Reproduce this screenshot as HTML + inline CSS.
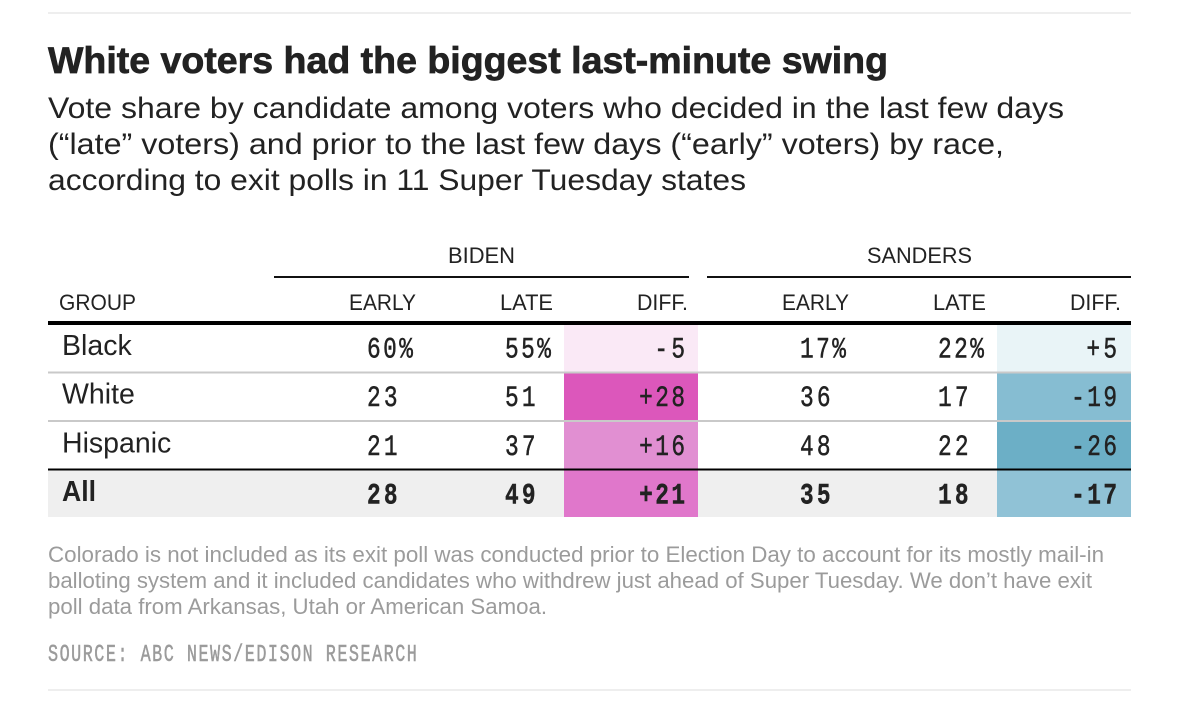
<!DOCTYPE html>
<html>
<head>
<meta charset="utf-8">
<title>White voters had the biggest last-minute swing</title>
<style>
html,body{margin:0;padding:0;background:#fff;width:1200px;height:710px;overflow:hidden}
svg{display:block}
text{font-family:"Liberation Sans",sans-serif;fill:#222}
.sub{font-size:30px}
.head{font-size:22px}
.note{font-size:22px;fill:#9b9b9b}
.source{font-family:"Liberation Mono",monospace;font-size:24px;fill:#9b9b9b;stroke:#9b9b9b;stroke-width:.5px}
</style>
</head>
<body>
<svg id="chart" width="1200" height="710" viewBox="0 0 1200 710">
  <rect x="48" y="12" width="1083" height="2" fill="#eeeeee"/>
  <text x="48" y="73" font-size="37" font-weight="700" stroke="#222" stroke-width=".7" textLength="840" lengthAdjust="spacingAndGlyphs">White voters had the biggest last-minute swing</text>
  <text class="sub" x="48" y="118" textLength="1016" lengthAdjust="spacingAndGlyphs">Vote share by candidate among voters who decided in the last few days</text>
  <text class="sub" x="48" y="154" textLength="956" lengthAdjust="spacingAndGlyphs">(“late” voters) and prior to the last few days (“early” voters) by race,</text>
  <text class="sub" x="48" y="190" textLength="698" lengthAdjust="spacingAndGlyphs">according to exit polls in 11 Super Tuesday states</text>

  <text class="head" x="448" y="263" textLength="67" lengthAdjust="spacingAndGlyphs">BIDEN</text>
  <text class="head" x="867" y="263" textLength="105" lengthAdjust="spacingAndGlyphs">SANDERS</text>
  <rect x="274" y="276" width="415" height="2" fill="#111"/>
  <rect x="707" y="276" width="424" height="2" fill="#111"/>

  <text class="head" x="59" y="310" textLength="77" lengthAdjust="spacingAndGlyphs">GROUP</text>
  <text class="head" x="349" y="310" textLength="67" lengthAdjust="spacingAndGlyphs">EARLY</text>
  <text class="head" x="500" y="310" textLength="53" lengthAdjust="spacingAndGlyphs">LATE</text>
  <text class="head" x="637" y="310" textLength="51" lengthAdjust="spacingAndGlyphs">DIFF.</text>
  <text class="head" x="782" y="310" textLength="67" lengthAdjust="spacingAndGlyphs">EARLY</text>
  <text class="head" x="933" y="310" textLength="53" lengthAdjust="spacingAndGlyphs">LATE</text>
  <text class="head" x="1070" y="310" textLength="51" lengthAdjust="spacingAndGlyphs">DIFF.</text>

  <g id="table-body"></g>

  <rect x="48" y="321" width="1083" height="4" fill="#000"/>
  <rect x="48" y="371.5" width="1083" height="2" fill="#c9c9c9"/>
  <rect x="48" y="420" width="1083" height="2" fill="#c9c9c9"/>
  <rect x="48" y="468.5" width="1083" height="2" fill="#000"/>

  <text class="note" x="48" y="562" textLength="1056" lengthAdjust="spacingAndGlyphs">Colorado is not included as its exit poll was conducted prior to Election Day to account for its mostly mail-in</text>
  <text class="note" x="48" y="588" textLength="1044" lengthAdjust="spacingAndGlyphs">balloting system and it included candidates who withdrew just ahead of Super Tuesday. We don’t have exit</text>
  <text class="note" x="48" y="614" textLength="499" lengthAdjust="spacingAndGlyphs">poll data from Arkansas, Utah or American Samoa.</text>
  <text class="source" transform="translate(48,661) scale(.7,1)" x="0" y="0" textLength="527" lengthAdjust="spacing">SOURCE: ABC NEWS/EDISON RESEARCH</text>
  <rect x="48" y="689" width="1083" height="2" fill="#eeeeee"/>
</svg>
<script>
const groups = ["Black", "White", "Hispanic", "All"];
const bidenEarly = [60, 23, 21, 28];
const bidenLate = [55, 51, 37, 49];
const bidenDiff = [-5, 28, 16, 21];
const sandersEarly = [17, 36, 48, 35];
const sandersLate = [22, 17, 22, 18];
const sandersDiff = [5, -19, -26, -17];

const NS = "http://www.w3.org/2000/svg";
const body = document.getElementById("table-body");
const numberScaleX = 0.76;

function rowTop(i) { return 325 + 48.5 * i; }
function rowBaseline(i) { return 357.5 + 48.7 * i; }
function labelBaseline(i) { return 355 + 48.7 * i; }

function mix(a, b, t) {
  return [0, 1, 2].map(function (k) { return Math.round(a[k] + (b[k] - a[k]) * t); });
}
function scaleColor(magnitude, domain, range) {
  let j = 0;
  while (j < domain.length - 2 && magnitude > domain[j + 1]) j++;
  const t = Math.max(0, Math.min(1.15, (magnitude - domain[j]) / (domain[j + 1] - domain[j])));
  const c = mix(range[j], range[j + 1], t).map(function (v) { return Math.max(0, Math.min(255, v)); });
  return "rgb(" + c.join(",") + ")";
}
const pinkDomain = [0, 5, 16, 21, 28];
const pinkRange = [[255,255,255],[250,233,246],[225,143,210],[224,119,203],[220,87,187]];
const blueDomain = [0, 5, 17, 19, 26];
const blueRange = [[255,255,255],[233,244,247],[144,194,214],[134,189,210],[108,175,198]];

function addNumber(label, x, i, anchor, name) {
  const t = document.createElementNS(NS, "text");
  
  
  t.setAttribute("transform", "translate(" + x + "," + rowBaseline(i) + ") scale(" + numberScaleX + ",1)");
  t.setAttribute("text-anchor", anchor);
  t.setAttribute("textLength", label.length * 15.3 / numberScaleX);
  t.setAttribute("lengthAdjust", "spacing");
  t.style.fontFamily = '"Liberation Mono", monospace';
  t.style.fontSize = "30px";
  t.style.stroke = "#222";
  t.style.strokeWidth = i === groups.length - 1 ? "0.4px" : "0.5px";
  if (i === groups.length - 1) t.style.fontWeight = "700";
  t.textContent = label;
  body.appendChild(t);
}
function share(v, i) { return i === 0 ? v + "%" : String(v); }
function signed(v) { return (v > 0 ? "+" : "") + v; }

groups.forEach(function (group, i) {
  const slug = group.toLowerCase();
  const top = rowTop(i);
  const h = rowTop(i + 1) - top;

  if (i === groups.length - 1) {
    const bg = document.createElementNS(NS, "rect");
    
    
    bg.setAttribute("x", 48);
    bg.setAttribute("y", top);
    bg.setAttribute("width", 1083);
    bg.setAttribute("height", h - 2);
    bg.setAttribute("fill", "#efefef");
    body.appendChild(bg);
  }

  const bidenCell = document.createElementNS(NS, "rect");
  
  
  bidenCell.setAttribute("x", 564);
  bidenCell.setAttribute("y", top);
  bidenCell.setAttribute("width", 134);
  bidenCell.setAttribute("height", i === groups.length - 1 ? h - 2 : h);
  bidenCell.setAttribute("fill", scaleColor(Math.abs(bidenDiff[i]), pinkDomain, pinkRange));
  body.appendChild(bidenCell);

  const sandersCell = document.createElementNS(NS, "rect");
  
  
  sandersCell.setAttribute("x", 997);
  sandersCell.setAttribute("y", top);
  sandersCell.setAttribute("width", 134);
  sandersCell.setAttribute("height", i === groups.length - 1 ? h - 2 : h);
  sandersCell.setAttribute("fill", scaleColor(Math.abs(sandersDiff[i]), blueDomain, blueRange));
  body.appendChild(sandersCell);

  const label = document.createElementNS(NS, "text");
  
  
  label.setAttribute("x", 62);
  label.setAttribute("y", labelBaseline(i));
  label.style.fontSize = "28.5px";
  if (i === groups.length - 1) {
    label.style.fontWeight = "700";
    label.setAttribute("textLength", 34);
    label.setAttribute("lengthAdjust", "spacingAndGlyphs");
  }
  label.textContent = group;
  body.appendChild(label);

  addNumber(share(bidenEarly[i], i), 367, i, "start", "biden-early-" + slug);
  addNumber(share(bidenLate[i], i), 505, i, "start", "biden-late-" + slug);
  addNumber(signed(bidenDiff[i]), 685, i, "end", "biden-diff-" + slug);
  addNumber(share(sandersEarly[i], i), 800, i, "start", "sanders-early-" + slug);
  addNumber(share(sandersLate[i], i), 938, i, "start", "sanders-late-" + slug);
  addNumber(signed(sandersDiff[i]), 1117, i, "end", "sanders-diff-" + slug);
});
</script>
</body>
</html>
